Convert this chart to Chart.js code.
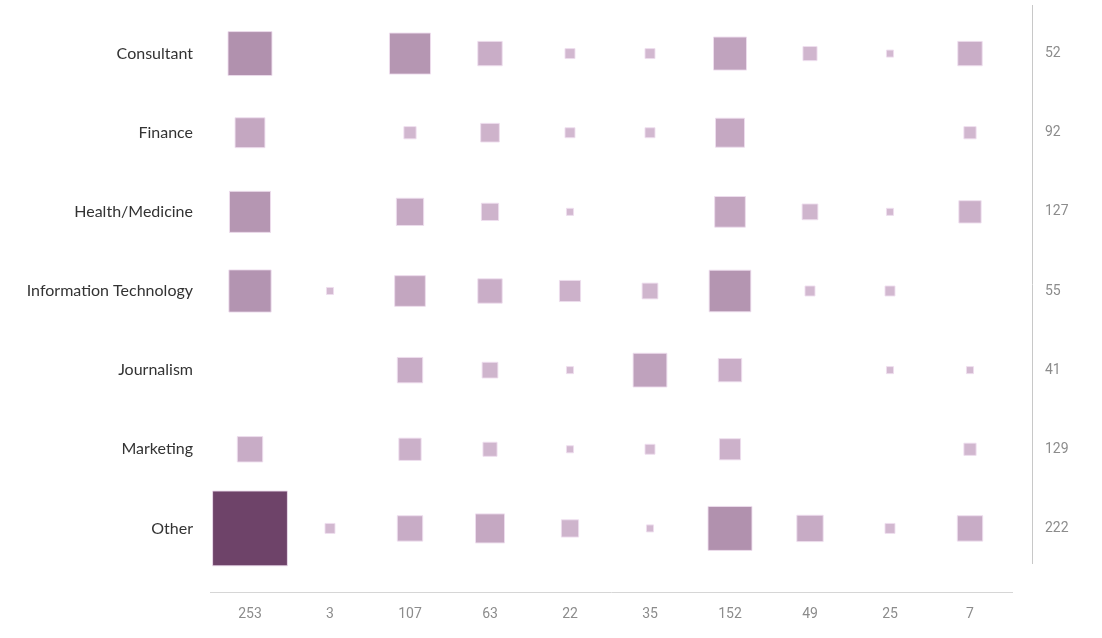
<!DOCTYPE html>
<html>
<head>
<meta charset="utf-8">
<script src="https://cdn.jsdelivr.net/npm/chart.js@4"></script>
<style>
  html, body { margin: 0; padding: 0; background: #fff; }
  #wrap { width: 1102px; height: 638px; }
</style>
</head>
<body>
<div id="wrap"><canvas id="matrixChart" width="1102" height="638"></canvas></div>
<script>
const rowNames = ['Consultant', 'Finance', 'Health/Medicine', 'Information Technology', 'Journalism', 'Marketing', 'Other'];
const rowTotals = ['52', '92', '127', '55', '41', '129', '222'];
const colTotals = ['253', '3', '107', '63', '22', '35', '152', '49', '25', '7'];

// cell counts, one array per row (0 = no square)
const consultant = [39, 0, 34, 12, 2, 2, 22, 4, 1, 12];
const finance = [18, 0, 3, 7, 2, 2, 17, 0, 0, 3];
const health = [34, 0, 15, 6, 1, 0, 19, 5, 1, 10];
const infoTech = [36, 1, 19, 12, 9, 5, 35, 2, 2, 0];
const journalism = [0, 0, 13, 5, 1, 23, 11, 0, 1, 1];
const marketing = [13, 0, 10, 4, 1, 2, 9, 0, 0, 3];
const other = [113, 2, 13, 17, 6, 1, 39, 14, 2, 13];

const cellRows = [consultant, finance, health, infoTech, journalism, marketing, other];

const points = [];
cellRows.forEach((row, r) => {
    row.forEach((v, c) => {
        if (v > 0) points.push({ x: c, y: r, v: v });
    });
});

const maxVal = Math.max(...points.map(p => p.v));
const light = [211, 185, 209];
const dark = [110, 67, 105];
const colorFor = v => {
    const t = (v - 1) / (maxVal - 1);
    const c = light.map((l, i) => Math.round(l + (dark[i] - l) * t));
    return `rgb(${c[0]}, ${c[1]}, ${c[2]})`;
};
// square side grows with sqrt of the count, rect radius = side / sqrt(2)
const radiusFor = v => (7.04 * Math.sqrt(v)) / Math.SQRT2;

const fixedTicks = labels => scale => {
    scale.ticks = labels.map((_, i) => ({ value: i }));
};

// keep the tick padding from pushing the plot area down
const fitWidth = w => scale => {
    scale.width = w;
    scale.paddingTop = 0;
    scale.paddingBottom = 0;
};

const axisLines = {
    id: 'axisLines',
    afterDraw(chart) {
        const { ctx, chartArea } = chart;
        ctx.save();
        ctx.lineWidth = 1;
        ctx.strokeStyle = '#d6d6d6';
        ctx.beginPath();
        ctx.moveTo(chartArea.left, chartArea.bottom + 24.5);
        ctx.lineTo(chartArea.right + 3, chartArea.bottom + 24.5);
        ctx.stroke();
        ctx.strokeStyle = '#c8c8c8';
        ctx.beginPath();
        ctx.moveTo(chartArea.right + 22.5, 5);
        ctx.lineTo(chartArea.right + 22.5, chartArea.bottom - 4);
        ctx.stroke();
        ctx.restore();
    },
};

const el = document.getElementById('matrixChart');

if (el) {
    new Chart(el, {
        type: 'scatter',
        data: {
            datasets: [
                {
                    label: 'Count',
                    data: points,
                    pointStyle: 'rect',
                    pointRadius: ctx => radiusFor(ctx.raw.v),
                    pointHoverRadius: ctx => radiusFor(ctx.raw.v),
                    backgroundColor: ctx => colorFor(ctx.raw.v),
                    borderColor: 'rgba(238, 222, 238, 0.9)',
                    borderWidth: 1,
                    clip: false,
                },
            ],
        },
        options: {
            responsive: false,
            animation: false,
            layout: {
                autoPadding: false,
                padding: { top: 14, bottom: 0, left: 0, right: 0 },
            },
            plugins: {
                legend: { display: false },
                tooltip: { enabled: false },
            },
            scales: {
                x: {
                    type: 'linear',
                    position: 'bottom',
                    min: -0.5,
                    max: 9.5,
                    afterBuildTicks: fixedTicks(colTotals),
                    afterFit: s => { s.height = 70; s.paddingLeft = 0; s.paddingRight = 0; },
                    grid: { display: false, drawTicks: false },
                    border: { display: false },
                    ticks: {
                        callback: v => colTotals[v],
                        color: '#8c8c8c',
                        font: { family: 'Roboto', size: 14 },
                        padding: 38,
                        maxRotation: 0,
                    },
                },
                y: {
                    type: 'linear',
                    position: 'left',
                    min: -0.5,
                    max: 6.5,
                    reverse: true,
                    afterBuildTicks: fixedTicks(rowNames),
                    afterFit: fitWidth(210),
                    grid: { display: false, drawTicks: false },
                    border: { display: false },
                    ticks: {
                        callback: v => rowNames[v],
                        color: '#333333',
                        font: { family: 'Lato', size: 16 },
                        padding: 17,
                    },
                },
                y2: {
                    type: 'linear',
                    position: 'right',
                    min: -0.5,
                    max: 6.5,
                    reverse: true,
                    afterBuildTicks: fixedTicks(rowTotals),
                    afterFit: fitWidth(92),
                    grid: { display: false, drawTicks: false },
                    border: { display: false },
                    ticks: {
                        callback: v => rowTotals[v],
                        color: '#8c8c8c',
                        font: { family: 'Roboto', size: 14 },
                        padding: 35,
                    },
                },
            },
        },
        plugins: [axisLines],
    });
}
</script>
</body>
</html>
